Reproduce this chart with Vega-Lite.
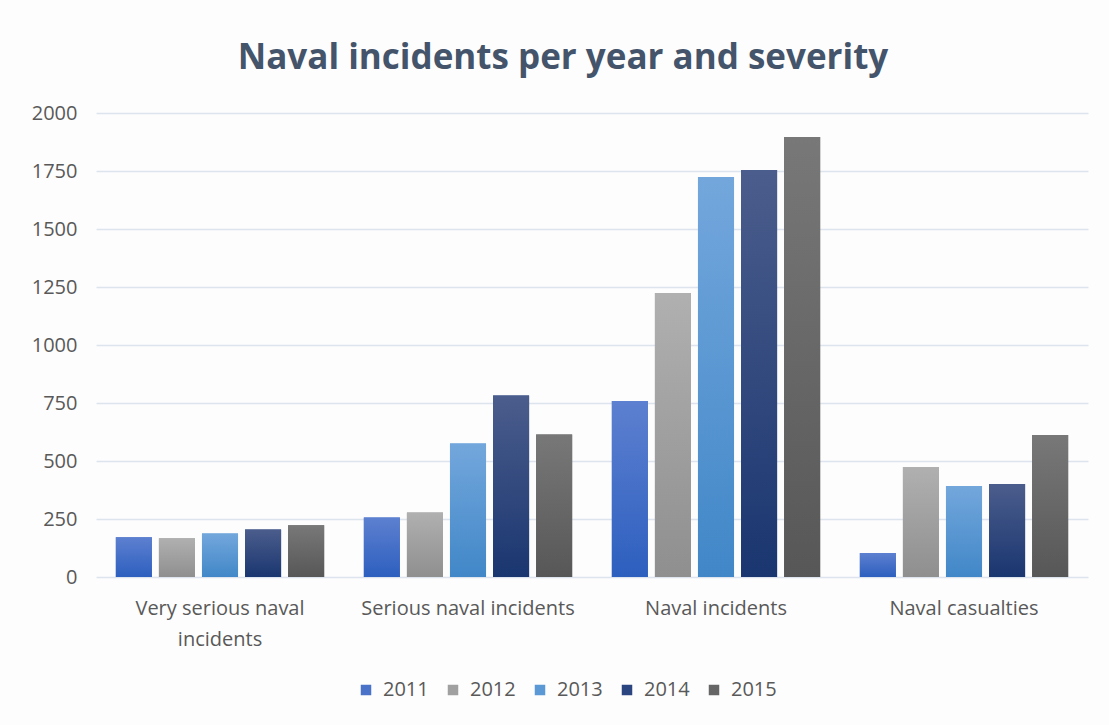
{
  "$schema": "https://vega.github.io/schema/vega-lite/v6.json",
  "autosize": {"type": "none"},
  "width": 992,
  "height": 464,
  "padding": {"left": 96, "top": 113, "right": 21, "bottom": 148},
  "background": "#fdfdfd",
  "title": {
    "text": "Naval incidents per year and severity",
    "font": "Open Sans",
    "fontSize": 35,
    "fontWeight": "bold",
    "color": "#44546a",
    "anchor": "middle",
    "dx": -29,
    "offset": 27
  },
  "data": {
    "values": [
      {"category": "Very serious naval incidents", "year": "2011", "value": 171},
      {"category": "Very serious naval incidents", "year": "2012", "value": 167},
      {"category": "Very serious naval incidents", "year": "2013", "value": 188},
      {"category": "Very serious naval incidents", "year": "2014", "value": 205},
      {"category": "Very serious naval incidents", "year": "2015", "value": 223},
      {"category": "Serious naval incidents", "year": "2011", "value": 256},
      {"category": "Serious naval incidents", "year": "2012", "value": 278},
      {"category": "Serious naval incidents", "year": "2013", "value": 575},
      {"category": "Serious naval incidents", "year": "2014", "value": 782},
      {"category": "Serious naval incidents", "year": "2015", "value": 614},
      {"category": "Naval incidents", "year": "2011", "value": 759},
      {"category": "Naval incidents", "year": "2012", "value": 1224},
      {"category": "Naval incidents", "year": "2013", "value": 1724},
      {"category": "Naval incidents", "year": "2014", "value": 1754},
      {"category": "Naval incidents", "year": "2015", "value": 1897},
      {"category": "Naval casualties", "year": "2011", "value": 103},
      {"category": "Naval casualties", "year": "2012", "value": 474},
      {"category": "Naval casualties", "year": "2013", "value": 392},
      {"category": "Naval casualties", "year": "2014", "value": 401},
      {"category": "Naval casualties", "year": "2015", "value": 612}
    ]
  },
  "encoding": {
    "x": {
      "field": "category",
      "type": "nominal",
      "sort": null,
      "scale": {"paddingInner": 0.16, "paddingOuter": 0.08},
      "axis": {
        "title": null,
        "labelAngle": 0,
        "domain": false,
        "ticks": false,
        "labelPadding": 21,
        "labelLimit": 0,
        "labelFont": "Open Sans",
        "labelFontSize": 20,
        "labelColor": "#595959",
        "labelLineHeight": 31,
        "labelExpr": "datum.label == 'Very serious naval incidents' ? ['Very serious naval', 'incidents'] : datum.label"
      }
    },
    "xOffset": {
      "field": "year",
      "type": "nominal",
      "sort": ["2011", "2012", "2013", "2014", "2015"],
      "scale": {"paddingInner": 0.163, "paddingOuter": 0}
    },
    "y": {
      "field": "value",
      "type": "quantitative",
      "scale": {"domain": [0, 2000], "nice": false},
      "axis": {
        "title": null,
        "format": "d",
        "values": [0, 250, 500, 750, 1000, 1250, 1500, 1750, 2000],
        "domain": false,
        "ticks": false,
        "labelPadding": 19,
        "labelFont": "Open Sans",
        "labelFontSize": 20,
        "labelColor": "#595959",
        "gridColor": "#dde4ee",
        "gridWidth": 1.5
      }
    }
  },
  "layer": [
    {
      "mark": {"type": "bar", "strokeWidth": 0},
      "encoding": {
        "color": {
          "field": "year",
          "type": "nominal",
          "scale": {
            "domain": ["2011", "2012", "2013", "2014", "2015"],
            "range": ["#4a72c9", "#a0a0a0", "#5a98d6", "#2b4580", "#666666"]
          },
          "legend": {
            "title": null,
            "orient": "none",
            "direction": "horizontal",
            "legendX": 260,
            "legendY": 567,
            "symbolType": "square",
            "symbolSize": 110,
            "symbolStrokeWidth": 0,
            "labelFont": "Open Sans",
            "labelFontSize": 20,
            "labelColor": "#595959",
            "labelOffset": 7,
            "columnPadding": 14
          }
        }
      }
    },
    {
      "transform": [{"filter": "datum.year == '2011'"}],
      "mark": {"type": "bar", "strokeWidth": 0, "color": {"gradient": "linear", "x1": 0, "y1": 0, "x2": 0, "y2": 1, "stops": [{"offset": 0, "color": "#5d80d0"}, {"offset": 1, "color": "#2d5fbf"}]}}
    },
    {
      "transform": [{"filter": "datum.year == '2012'"}],
      "mark": {"type": "bar", "strokeWidth": 0, "color": {"gradient": "linear", "x1": 0, "y1": 0, "x2": 0, "y2": 1, "stops": [{"offset": 0, "color": "#b0b0b0"}, {"offset": 1, "color": "#8f8f8f"}]}}
    },
    {
      "transform": [{"filter": "datum.year == '2013'"}],
      "mark": {"type": "bar", "strokeWidth": 0, "color": {"gradient": "linear", "x1": 0, "y1": 0, "x2": 0, "y2": 1, "stops": [{"offset": 0, "color": "#73a7dc"}, {"offset": 1, "color": "#4187c8"}]}}
    },
    {
      "transform": [{"filter": "datum.year == '2014'"}],
      "mark": {"type": "bar", "strokeWidth": 0, "color": {"gradient": "linear", "x1": 0, "y1": 0, "x2": 0, "y2": 1, "stops": [{"offset": 0, "color": "#4b5d8c"}, {"offset": 1, "color": "#1a3670"}]}}
    },
    {
      "transform": [{"filter": "datum.year == '2015'"}],
      "mark": {"type": "bar", "strokeWidth": 0, "color": {"gradient": "linear", "x1": 0, "y1": 0, "x2": 0, "y2": 1, "stops": [{"offset": 0, "color": "#787878"}, {"offset": 1, "color": "#575757"}]}}
    }
  ],
  "config": {
    "view": {"stroke": null}
  }
}
